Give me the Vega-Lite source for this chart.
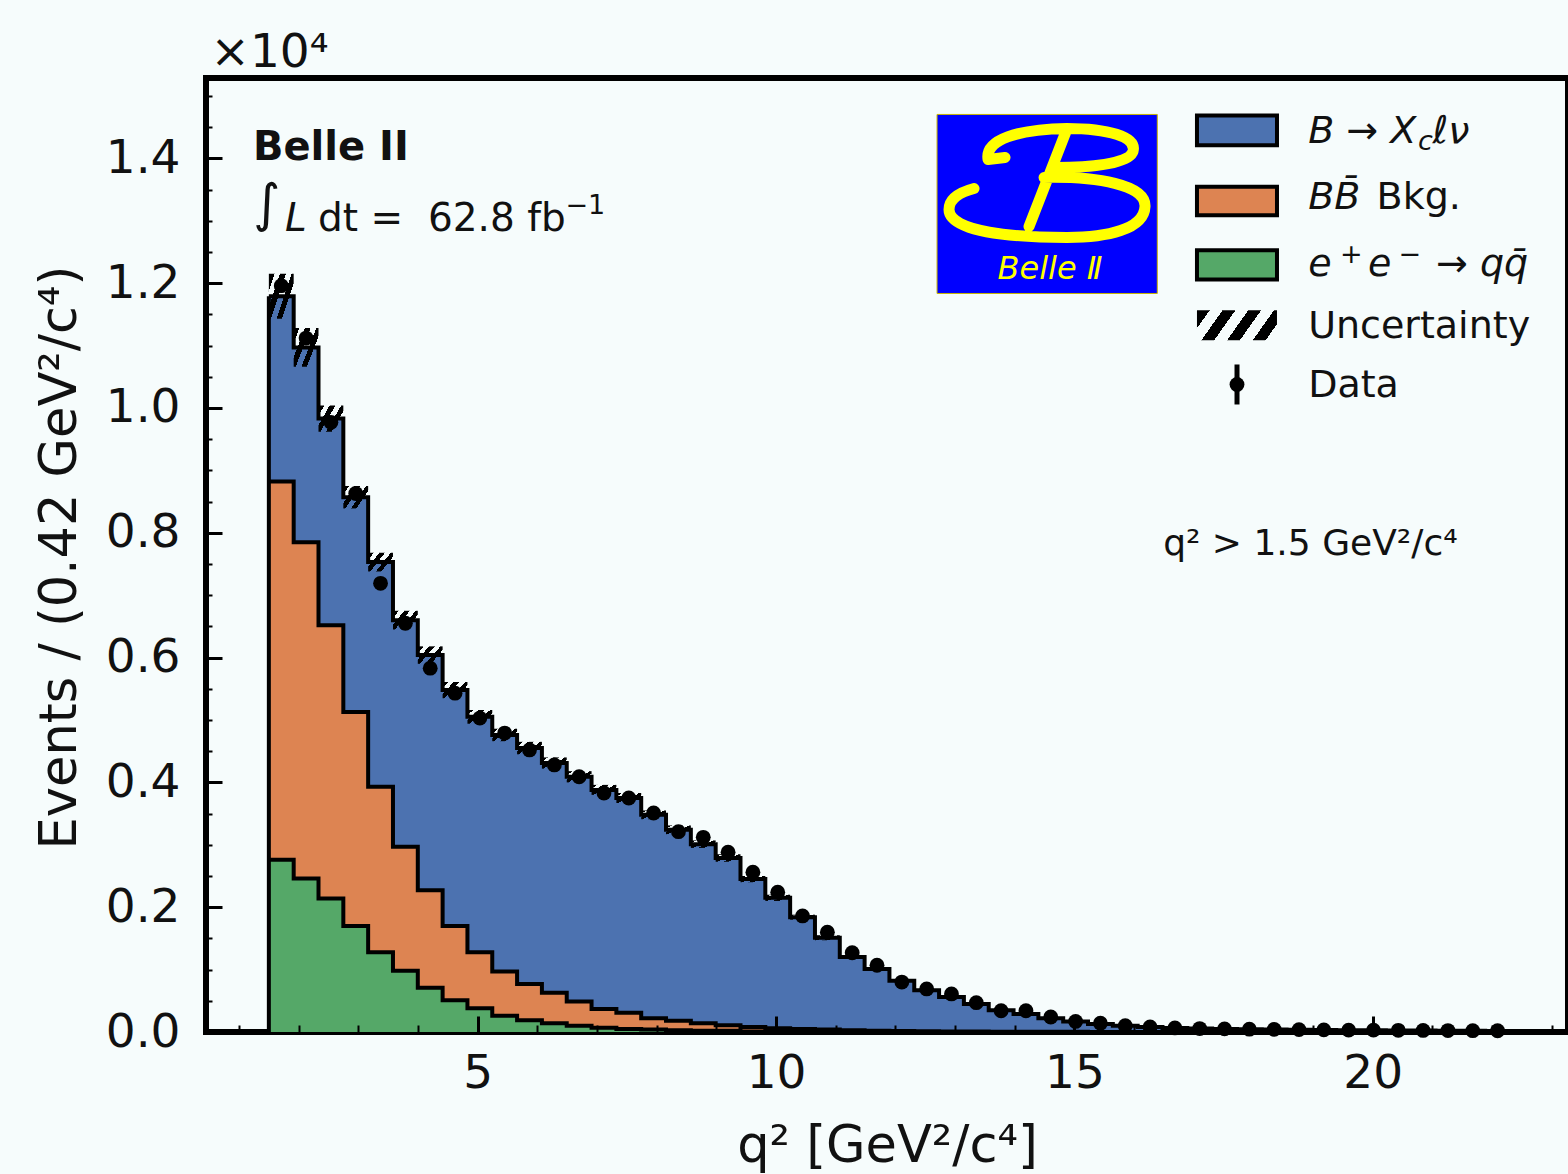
{
  "$schema": "https://vega.github.io/schema/vega-lite/v6.json",
  "width": 1362,
  "height": 954,
  "autosize": {"type": "none"},
  "padding": {"left": 206, "top": 78, "right": 0, "bottom": 142},
  "background": "#f6fcfc",
  "config": {
    "font": "DejaVu Sans",
    "view": {"stroke": "black", "strokeWidth": 6, "fill": "#f6fcfc"}
  },
  "datasets": {
    "one": [{}],
    "hist": [
      {"lo":1.5,"hi":1.916,"mid":1.708,"g":0.276,"o":0.882,"t":1.179,"d":1.196,"e":0.011,"ulo":1.143,"uhi":1.215},
      {"lo":1.916,"hi":2.332,"mid":2.124,"g":0.246,"o":0.785,"t":1.097,"d":1.112,"e":0.0105,"ulo":1.066,"uhi":1.128},
      {"lo":2.332,"hi":2.748,"mid":2.54,"g":0.214,"o":0.652,"t":0.983,"d":0.977,"e":0.0099,"ulo":0.962,"uhi":1.004},
      {"lo":2.748,"hi":3.164,"mid":2.956,"g":0.170,"o":0.513,"t":0.857,"d":0.863,"e":0.0093,"ulo":0.839,"uhi":0.875},
      {"lo":3.164,"hi":3.58,"mid":3.372,"g":0.128,"o":0.393,"t":0.753,"d":0.719,"e":0.0085,"ulo":0.738,"uhi":0.768},
      {"lo":3.58,"hi":3.996,"mid":3.788,"g":0.098,"o":0.297,"t":0.660,"d":0.655,"e":0.0081,"ulo":0.645,"uhi":0.675},
      {"lo":3.996,"hi":4.412,"mid":4.204,"g":0.071,"o":0.227,"t":0.604,"d":0.583,"e":0.0076,"ulo":0.590,"uhi":0.618},
      {"lo":4.412,"hi":4.828,"mid":4.62,"g":0.051,"o":0.170,"t":0.548,"d":0.543,"e":0.0074,"ulo":0.535,"uhi":0.561},
      {"lo":4.828,"hi":5.244,"mid":5.036,"g":0.038,"o":0.128,"t":0.505,"d":0.503,"e":0.0071,"ulo":0.494,"uhi":0.516},
      {"lo":5.244,"hi":5.66,"mid":5.452,"g":0.026,"o":0.097,"t":0.476,"d":0.479,"e":0.0069,"ulo":0.466,"uhi":0.486},
      {"lo":5.66,"hi":6.076,"mid":5.868,"g":0.019,"o":0.077,"t":0.455,"d":0.452,"e":0.0067,"ulo":0.445,"uhi":0.465},
      {"lo":6.076,"hi":6.492,"mid":6.284,"g":0.014,"o":0.063,"t":0.431,"d":0.428,"e":0.0065,"ulo":0.422,"uhi":0.440},
      {"lo":6.492,"hi":6.908,"mid":6.7,"g":0.010,"o":0.049,"t":0.409,"d":0.409,"e":0.0064,"ulo":0.400,"uhi":0.418},
      {"lo":6.908,"hi":7.324,"mid":7.116,"g":0.007,"o":0.037,"t":0.388,"d":0.383,"e":0.0062,"ulo":0.380,"uhi":0.396},
      {"lo":7.324,"hi":7.74,"mid":7.532,"g":0.005,"o":0.031,"t":0.375,"d":0.375,"e":0.0061,"ulo":0.367,"uhi":0.383},
      {"lo":7.74,"hi":8.156,"mid":7.948,"g":0.004,"o":0.022,"t":0.348,"d":0.351,"e":0.0059,"ulo":0.341,"uhi":0.355},
      {"lo":8.156,"hi":8.572,"mid":8.364,"g":0.003,"o":0.018,"t":0.324,"d":0.321,"e":0.0057,"ulo":0.317,"uhi":0.331},
      {"lo":8.572,"hi":8.988,"mid":8.78,"g":0.002,"o":0.014,"t":0.301,"d":0.312,"e":0.0056,"ulo":0.295,"uhi":0.307},
      {"lo":8.988,"hi":9.404,"mid":9.196,"g":0.002,"o":0.011,"t":0.279,"d":0.288,"e":0.0054,"ulo":0.273,"uhi":0.285},
      {"lo":9.404,"hi":9.82,"mid":9.612,"g":0.001,"o":0.008,"t":0.245,"d":0.256,"e":0.0051,"ulo":0.240,"uhi":0.250},
      {"lo":9.82,"hi":10.236,"mid":10.028,"g":0.001,"o":0.006,"t":0.215,"d":0.224,"e":0.0047,"ulo":0.210,"uhi":0.220},
      {"lo":10.236,"hi":10.652,"mid":10.444,"g":0.001,"o":0.005,"t":0.184,"d":0.186,"e":0.0043,"ulo":0.180,"uhi":0.188},
      {"lo":10.652,"hi":11.068,"mid":10.86,"g":0.0005,"o":0.004,"t":0.151,"d":0.160,"e":0.004,"ulo":0.147,"uhi":0.155},
      {"lo":11.068,"hi":11.484,"mid":11.276,"g":0.0004,"o":0.003,"t":0.120,"d":0.127,"e":0.0036,"ulo":0.117,"uhi":0.123},
      {"lo":11.484,"hi":11.9,"mid":11.692,"g":0.0003,"o":0.002,"t":0.101,"d":0.107,"e":0.0033,"ulo":0.098,"uhi":0.104},
      {"lo":11.9,"hi":12.316,"mid":12.108,"g":0.0002,"o":0.0015,"t":0.082,"d":0.080,"e":0.0028,"ulo":0.080,"uhi":0.084},
      {"lo":12.316,"hi":12.732,"mid":12.524,"g":0.0002,"o":0.0012,"t":0.067,"d":0.069,"e":0.0026,"ulo":0.065,"uhi":0.069},
      {"lo":12.732,"hi":13.148,"mid":12.94,"g":0.0001,"o":0.001,"t":0.056,"d":0.061,"e":0.0025,"ulo":0.054,"uhi":0.058},
      {"lo":13.148,"hi":13.564,"mid":13.356,"g":0.0001,"o":0.0008,"t":0.045,"d":0.047,"e":0.0022,"ulo":0.0435,"uhi":0.0465},
      {"lo":13.564,"hi":13.98,"mid":13.772,"g":0.0001,"o":0.0006,"t":0.035,"d":0.034,"e":0.0018,"ulo":0.034,"uhi":0.036},
      {"lo":13.98,"hi":14.396,"mid":14.188,"g":0,"o":0.0005,"t":0.029,"d":0.034,"e":0.0018,"ulo":0.028,"uhi":0.030},
      {"lo":14.396,"hi":14.812,"mid":14.604,"g":0,"o":0.0004,"t":0.022,"d":0.024,"e":0.0015,"ulo":0.021,"uhi":0.023},
      {"lo":14.812,"hi":15.228,"mid":15.02,"g":0,"o":0.0003,"t":0.017,"d":0.017,"e":0.0013,"ulo":0.0163,"uhi":0.0177},
      {"lo":15.228,"hi":15.644,"mid":15.436,"g":0,"o":0.0002,"t":0.013,"d":0.014,"e":0.0012,"ulo":0.0125,"uhi":0.0135},
      {"lo":15.644,"hi":16.06,"mid":15.852,"g":0,"o":0.0002,"t":0.010,"d":0.010,"e":0.001,"ulo":0.0096,"uhi":0.0104},
      {"lo":16.06,"hi":16.476,"mid":16.268,"g":0,"o":0.0001,"t":0.008,"d":0.008,"e":0.0009},
      {"lo":16.476,"hi":16.892,"mid":16.684,"g":0,"o":0.0001,"t":0.0065,"d":0.0065,"e":0.0008},
      {"lo":16.892,"hi":17.308,"mid":17.1,"g":0,"o":0.0001,"t":0.0055,"d":0.0055,"e":0.0007},
      {"lo":17.308,"hi":17.724,"mid":17.516,"g":0,"o":0,"t":0.005,"d":0.005,"e":0.0007},
      {"lo":17.724,"hi":18.14,"mid":17.932,"g":0,"o":0,"t":0.0045,"d":0.0045,"e":0.0007},
      {"lo":18.14,"hi":18.556,"mid":18.348,"g":0,"o":0,"t":0.004,"d":0.0042,"e":0.0006},
      {"lo":18.556,"hi":18.972,"mid":18.764,"g":0,"o":0,"t":0.0036,"d":0.0038,"e":0.0006},
      {"lo":18.972,"hi":19.388,"mid":19.18,"g":0,"o":0,"t":0.0033,"d":0.0034,"e":0.0006},
      {"lo":19.388,"hi":19.804,"mid":19.596,"g":0,"o":0,"t":0.003,"d":0.003,"e":0.0005},
      {"lo":19.804,"hi":20.22,"mid":20.012,"g":0,"o":0,"t":0.0028,"d":0.003,"e":0.0005},
      {"lo":20.22,"hi":20.636,"mid":20.428,"g":0,"o":0,"t":0.0026,"d":0.0027,"e":0.0005},
      {"lo":20.636,"hi":21.052,"mid":20.844,"g":0,"o":0,"t":0.0024,"d":0.0025,"e":0.0005},
      {"lo":21.052,"hi":21.468,"mid":21.26,"g":0,"o":0,"t":0.0022,"d":0.0023,"e":0.0005},
      {"lo":21.468,"hi":21.884,"mid":21.676,"g":0,"o":0,"t":0.002,"d":0.0021,"e":0.0005},
      {"lo":21.884,"hi":22.3,"mid":22.092,"g":0,"o":0,"t":0.0018,"d":0.002,"e":0.0004},
      {"lo":22.3,"g":0,"o":0,"t":0.0018}
    ]
  },
  "resolve": {"axis": {"x": "independent", "y": "independent"}},
  "layer": [
    {
      "data": {"name": "hist"},
      "mark": {"type": "area", "interpolate": "step-after", "color": "#55a868", "opacity": 1},
      "encoding": {
        "x": {"field": "lo", "type": "quantitative",
          "scale": {"domain": [0.4466, 23.272], "nice": false, "zero": false},
          "axis": {"orient": "bottom", "values": [5, 10, 15, 20], "format": "d", "domain": false, "grid": false,
            "tickSize": -16, "tickWidth": 3, "tickColor": "black", "labelFontSize": 47, "labelColor": "#111111",
            "labelPadding": 34, "labelFlush": false, "labelOverlap": false, "zindex": 1,
            "title": "q² [GeV²/c⁴]", "titleFontSize": 51, "titleFontWeight": "normal", "titleColor": "#111111",
            "titleY": 129, "titleBaseline": "alphabetic"}},
        "y": {"field": "g", "type": "quantitative",
          "scale": {"domain": [0, 1.5288], "nice": false, "zero": true},
          "axis": {"orient": "left", "values": [0, 0.2, 0.4, 0.6, 0.8, 1.0, 1.2, 1.4], "format": ".1f", "domain": false, "grid": false,
            "tickSize": -16, "tickWidth": 3, "tickColor": "black", "labelFontSize": 47, "labelColor": "#111111",
            "labelPadding": 42, "labelFlush": false, "labelOverlap": false, "zindex": 1,
            "title": "Events / (0.42 GeV²/c⁴)", "titleFontSize": 51, "titleFontWeight": "normal", "titleColor": "#111111",
            "titleAngle": -90, "titleX": -131, "titleY": 479, "titleAlign": "center", "titleBaseline": "alphabetic"}}
      }
    },
    {
      "data": {"name": "hist"},
      "mark": {"type": "area", "interpolate": "step-after", "color": "#dd8452", "opacity": 1},
      "encoding": {
        "x": {"field": "lo", "type": "quantitative",
          "axis": {"orient": "bottom", "values": [1,2,3,4,6,7,8,9,11,12,13,14,16,17,18,19,21,22,23], "labels": false, "domain": false, "grid": false,
            "tickSize": -7, "tickWidth": 2, "tickColor": "black", "title": null, "zindex": 1}},
        "y": {"field": "o", "type": "quantitative",
          "axis": {"orient": "left", "values": [0.05,0.1,0.15,0.25,0.3,0.35,0.45,0.5,0.55,0.65,0.7,0.75,0.85,0.9,0.95,1.05,1.1,1.15,1.25,1.3,1.35,1.45,1.5], "labels": false, "domain": false, "grid": false,
            "tickSize": -6, "tickWidth": 2, "tickColor": "black", "zindex": 1,
            "title": "×10⁴", "titleFontSize": 47, "titleFontWeight": "normal", "titleColor": "#111111",
            "titleAngle": 0, "titleX": 4, "titleY": -12, "titleAlign": "left", "titleBaseline": "alphabetic"}},
        "y2": {"field": "g"}
      }
    },
    {
      "data": {"name": "hist"},
      "mark": {"type": "area", "interpolate": "step-after", "color": "#4c72b0", "opacity": 1},
      "encoding": {
        "x": {"field": "lo", "type": "quantitative", "axis": null},
        "y": {"field": "t", "type": "quantitative", "axis": null},
        "y2": {"field": "o"}
      }
    },
    {
      "data": {"name": "hist"},
      "mark": {"type": "line", "interpolate": "step-after", "color": "black", "strokeWidth": 4},
      "encoding": {
        "x": {"field": "lo", "type": "quantitative", "axis": null},
        "y": {"field": "g", "type": "quantitative", "axis": null}
      }
    },
    {
      "data": {"name": "hist"},
      "mark": {"type": "line", "interpolate": "step-after", "color": "black", "strokeWidth": 4},
      "encoding": {
        "x": {"field": "lo", "type": "quantitative", "axis": null},
        "y": {"field": "o", "type": "quantitative", "axis": null}
      }
    },
    {
      "data": {"name": "hist"},
      "mark": {"type": "line", "interpolate": "step-after", "color": "black", "strokeWidth": 4},
      "encoding": {
        "x": {"field": "lo", "type": "quantitative", "axis": null},
        "y": {"field": "t", "type": "quantitative", "axis": null}
      }
    },
    {
      "data": {"name": "hist"},
      "transform": [{"filter": "datum.lo == 1.5"}],
      "mark": {"type": "rule", "color": "black", "strokeWidth": 4},
      "encoding": {
        "x": {"field": "lo", "type": "quantitative", "axis": null},
        "y": {"field": "t", "type": "quantitative", "axis": null},
        "y2": {"datum": 0}
      }
    },
    {
      "data": {"name": "hist"},
      "transform": [{"filter": "isValid(datum.ulo) && isValid(datum.hi)"}],
      "mark": {"type": "rect", "strokeWidth": 0,
        "fill": {"gradient": "linear", "x1": 0, "y1": 0, "x2": 1, "y2": 0.6,
          "stops": [
            {"offset": 0, "color": "#000000"}, {"offset": 0.17, "color": "#000000"},
            {"offset": 0.17, "color": "rgba(0,0,0,0)"}, {"offset": 0.33, "color": "rgba(0,0,0,0)"},
            {"offset": 0.33, "color": "#000000"}, {"offset": 0.5, "color": "#000000"},
            {"offset": 0.5, "color": "rgba(0,0,0,0)"}, {"offset": 0.67, "color": "rgba(0,0,0,0)"},
            {"offset": 0.67, "color": "#000000"}, {"offset": 0.83, "color": "#000000"},
            {"offset": 0.83, "color": "rgba(0,0,0,0)"}, {"offset": 1, "color": "rgba(0,0,0,0)"}
          ]}},
      "encoding": {
        "x": {"field": "lo", "type": "quantitative", "axis": null},
        "x2": {"field": "hi"},
        "y": {"field": "ulo", "type": "quantitative", "axis": null},
        "y2": {"field": "uhi"}
      }
    },
    {
      "data": {"name": "hist"},
      "transform": [{"filter": "isValid(datum.d)"}],
      "mark": {"type": "errorbar", "ticks": false, "rule": {"strokeWidth": 3, "color": "black"}},
      "encoding": {
        "x": {"field": "mid", "type": "quantitative", "axis": null},
        "y": {"field": "d", "type": "quantitative", "axis": null},
        "yError": {"field": "e"}
      }
    },
    {
      "data": {"name": "hist"},
      "transform": [{"filter": "isValid(datum.d)"}],
      "mark": {"type": "point", "filled": true, "color": "black", "size": 220, "opacity": 1, "strokeWidth": 0},
      "encoding": {
        "x": {"field": "mid", "type": "quantitative", "axis": null},
        "y": {"field": "d", "type": "quantitative", "axis": null}
      }
    },
    {
      "data": {"name": "one"},
      "mark": {"type": "text", "text": "Belle II", "fontSize": 40, "fontWeight": "bold", "align": "left", "baseline": "alphabetic", "color": "#111111"},
      "encoding": {"x": {"datum": 1.234, "axis": null}, "y": {"datum": 1.398, "axis": null}}
    },
    {
      "data": {"name": "one"},
      "mark": {"type": "text", "text": "∫", "fontSize": 52, "align": "left", "baseline": "alphabetic", "color": "#111111"},
      "encoding": {"x": {"datum": 1.234, "axis": null}, "y": {"datum": 1.2993, "axis": null}}
    },
    {
      "data": {"name": "one"},
      "mark": {"type": "text", "text": "L", "fontSize": 39, "fontStyle": "italic", "align": "left", "baseline": "alphabetic", "color": "#111111"},
      "encoding": {"x": {"datum": 1.771, "axis": null}, "y": {"datum": 1.2833, "axis": null}}
    },
    {
      "data": {"name": "one"},
      "mark": {"type": "text", "text": "dt =\u00a0 62.8 fb", "fontSize": 39, "align": "left", "baseline": "alphabetic", "color": "#111111"},
      "encoding": {"x": {"datum": 2.324, "axis": null}, "y": {"datum": 1.2833, "axis": null}}
    },
    {
      "data": {"name": "one"},
      "mark": {"type": "text", "text": "−1", "fontSize": 27, "align": "left", "baseline": "alphabetic", "color": "#111111"},
      "encoding": {"x": {"datum": 6.47, "axis": null}, "y": {"datum": 1.3101, "axis": null}}
    },
    {
      "data": {"name": "one"},
      "mark": {"type": "text", "text": "q²\u00a0> 1.5 GeV²/c⁴", "fontSize": 36, "align": "left", "baseline": "alphabetic", "color": "#111111"},
      "encoding": {"x": {"datum": 16.487, "axis": null}, "y": {"datum": 0.7652, "axis": null}}
    },
    {
      "data": {"name": "one"},
      "mark": {"type": "rect", "fill": "#0000ff", "stroke": "#c8b400", "strokeWidth": 1},
      "encoding": {"x": {"datum": 12.698, "axis": null}, "x2": {"datum": 16.389}, "y": {"datum": 1.1835, "axis": null}, "y2": {"datum": 1.4704}}
    },
    {
      "data": {"name": "one"},
      "mark": {"type": "point", "filled": false, "opacity": 1, "color": "#ffff00", "strokeWidth": 11, "size": 40000, "strokeCap": "round",
        "shape": "M -0.59 -0.25 C -0.62 -0.45 -0.3 -0.55 0.2 -0.56 C 0.6 -0.56 0.9 -0.48 0.86 -0.33 C 0.82 -0.2 0.4 -0.17 0.09 -0.17 M -0.59 -0.25 L -0.42 -0.27 M 0.19 -0.53 L -0.18 0.42 M -0.03 -0.07 C 0.5 -0.08 0.99 0 0.98 0.22 C 0.97 0.45 0.6 0.53 0.2 0.53 C -0.3 0.53 -0.98 0.48 -0.98 0.25 C -0.98 0.15 -0.88 0.08 -0.73 0.04"},
      "encoding": {"x": {"datum": 14.541, "axis": null}, "y": {"datum": 1.3582, "axis": null}}
    },
    {
      "data": {"name": "one"},
      "mark": {"type": "text", "text": "Belle Ⅱ", "fontSize": 32, "fontStyle": "italic", "align": "center", "baseline": "alphabetic", "color": "#ffff00"},
      "encoding": {"x": {"datum": 14.591, "axis": null}, "y": {"datum": 1.2059, "axis": null}}
    },
    {
      "data": {"name": "one"},
      "mark": {"type": "rect", "fill": "#4c72b0", "stroke": "black", "strokeWidth": 4},
      "encoding": {"x": {"datum": 17.054, "axis": null}, "x2": {"datum": 18.395}, "y": {"datum": 1.4212, "axis": null}, "y2": {"datum": 1.4688}}
    },
    {
      "data": {"name": "one"},
      "mark": {"type": "rect", "fill": "#dd8452", "stroke": "black", "strokeWidth": 4},
      "encoding": {"x": {"datum": 17.054, "axis": null}, "x2": {"datum": 18.395}, "y": {"datum": 1.309, "axis": null}, "y2": {"datum": 1.3545}}
    },
    {
      "data": {"name": "one"},
      "mark": {"type": "rect", "fill": "#55a868", "stroke": "black", "strokeWidth": 4},
      "encoding": {"x": {"datum": 17.054, "axis": null}, "x2": {"datum": 18.395}, "y": {"datum": 1.2059, "axis": null}, "y2": {"datum": 1.2529}}
    },
    {
      "data": {"name": "one"},
      "mark": {"type": "rect", "strokeWidth": 0,
        "fill": {"gradient": "linear", "x1": 0, "y1": 0, "x2": 1.2, "y2": 0.32,
          "stops": [
            {"offset": 0, "color": "#000000"}, {"offset": 0.125, "color": "#000000"},
            {"offset": 0.125, "color": "rgba(0,0,0,0)"}, {"offset": 0.25, "color": "rgba(0,0,0,0)"},
            {"offset": 0.25, "color": "#000000"}, {"offset": 0.375, "color": "#000000"},
            {"offset": 0.375, "color": "rgba(0,0,0,0)"}, {"offset": 0.5, "color": "rgba(0,0,0,0)"},
            {"offset": 0.5, "color": "#000000"}, {"offset": 0.625, "color": "#000000"},
            {"offset": 0.625, "color": "rgba(0,0,0,0)"}, {"offset": 0.75, "color": "rgba(0,0,0,0)"},
            {"offset": 0.75, "color": "#000000"}, {"offset": 0.875, "color": "#000000"},
            {"offset": 0.875, "color": "rgba(0,0,0,0)"}, {"offset": 1, "color": "rgba(0,0,0,0)"}
          ]}},
      "encoding": {"x": {"datum": 17.054, "axis": null}, "x2": {"datum": 18.395}, "y": {"datum": 1.1087, "axis": null}, "y2": {"datum": 1.1567}}
    },
    {
      "data": {"name": "one"},
      "mark": {"type": "rule", "color": "black", "strokeWidth": 5},
      "encoding": {"x": {"datum": 17.725, "axis": null}, "y": {"datum": 1.0056, "axis": null}, "y2": {"datum": 1.0697}}
    },
    {
      "data": {"name": "one"},
      "mark": {"type": "point", "filled": true, "color": "black", "size": 220, "opacity": 1, "strokeWidth": 0},
      "encoding": {"x": {"datum": 17.725, "axis": null}, "y": {"datum": 1.0377, "axis": null}}
    },
    {
      "data": {"name": "one"},
      "mark": {"type": "text", "text": "B → X", "fontSize": 38, "fontStyle": "italic", "align": "left", "baseline": "alphabetic", "color": "#111111"},
      "encoding": {"x": {"datum": 18.917, "axis": null}, "y": {"datum": 1.4239, "axis": null}}
    },
    {
      "data": {"name": "one"},
      "mark": {"type": "text", "text": "c", "fontSize": 27, "fontStyle": "italic", "align": "left", "baseline": "alphabetic", "color": "#111111"},
      "encoding": {"x": {"datum": 20.76, "axis": null}, "y": {"datum": 1.4127, "axis": null}}
    },
    {
      "data": {"name": "one"},
      "mark": {"type": "text", "text": "ℓν", "fontSize": 38, "fontStyle": "italic", "align": "left", "baseline": "alphabetic", "color": "#111111"},
      "encoding": {"x": {"datum": 21.0, "axis": null}, "y": {"datum": 1.4239, "axis": null}}
    },
    {
      "data": {"name": "one"},
      "mark": {"type": "text", "text": "BB̄", "fontSize": 38, "fontStyle": "italic", "align": "left", "baseline": "alphabetic", "color": "#111111"},
      "encoding": {"x": {"datum": 18.917, "axis": null}, "y": {"datum": 1.3181, "axis": null}}
    },
    {
      "data": {"name": "one"},
      "mark": {"type": "text", "text": "Bkg.", "fontSize": 38, "align": "left", "baseline": "alphabetic", "color": "#111111"},
      "encoding": {"x": {"datum": 20.064, "axis": null}, "y": {"datum": 1.3181, "axis": null}}
    },
    {
      "data": {"name": "one"},
      "mark": {"type": "text", "text": "e", "fontSize": 38, "fontStyle": "italic", "align": "left", "baseline": "alphabetic", "color": "#111111"},
      "encoding": {"x": {"datum": 18.917, "axis": null}, "y": {"datum": 1.2112, "axis": null}}
    },
    {
      "data": {"name": "one"},
      "mark": {"type": "text", "text": "+", "fontSize": 27, "align": "left", "baseline": "alphabetic", "color": "#111111"},
      "encoding": {"x": {"datum": 19.45, "axis": null}, "y": {"datum": 1.232, "axis": null}}
    },
    {
      "data": {"name": "one"},
      "mark": {"type": "text", "text": "e", "fontSize": 38, "fontStyle": "italic", "align": "left", "baseline": "alphabetic", "color": "#111111"},
      "encoding": {"x": {"datum": 19.919, "axis": null}, "y": {"datum": 1.2112, "axis": null}}
    },
    {
      "data": {"name": "one"},
      "mark": {"type": "text", "text": "−", "fontSize": 27, "align": "left", "baseline": "alphabetic", "color": "#111111"},
      "encoding": {"x": {"datum": 20.43, "axis": null}, "y": {"datum": 1.232, "axis": null}}
    },
    {
      "data": {"name": "one"},
      "mark": {"type": "text", "text": "→ qq̄", "fontSize": 38, "fontStyle": "italic", "align": "left", "baseline": "alphabetic", "color": "#111111"},
      "encoding": {"x": {"datum": 21.06, "axis": null}, "y": {"datum": 1.2112, "axis": null}}
    },
    {
      "data": {"name": "one"},
      "mark": {"type": "text", "text": "Uncertainty", "fontSize": 38, "align": "left", "baseline": "alphabetic", "color": "#111111"},
      "encoding": {"x": {"datum": 18.917, "axis": null}, "y": {"datum": 1.1127, "axis": null}}
    },
    {
      "data": {"name": "one"},
      "mark": {"type": "text", "text": "Data", "fontSize": 38, "align": "left", "baseline": "alphabetic", "color": "#111111"},
      "encoding": {"x": {"datum": 18.917, "axis": null}, "y": {"datum": 1.0173, "axis": null}}
    }
  ]
}
